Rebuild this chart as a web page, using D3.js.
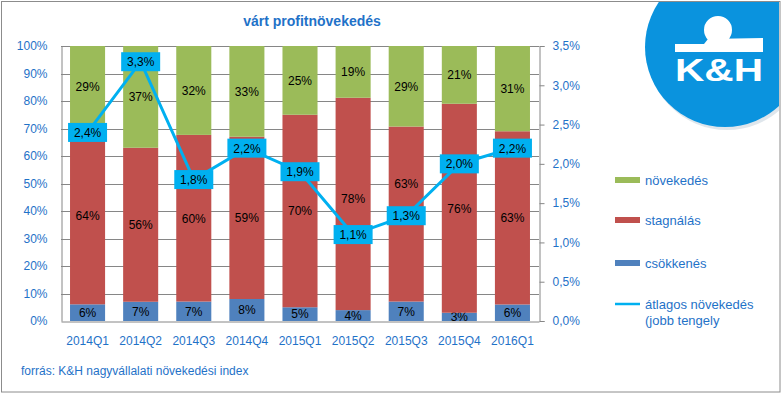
<!DOCTYPE html>
<html>
<head>
<meta charset="utf-8">
<script src="https://cdn.jsdelivr.net/npm/d3@7"></script>
<style>
	body { margin: 0; background: #fff; }
	svg { display: block; font-family: "Liberation Sans", Arial, sans-serif; }
	.axis path, .axis line { stroke: #868686; }
	.axis text { fill: #1f72c8; font-size: 12px; }
</style>
</head>
<body>
<div id="chart"></div>
<script>
// data
let categories = ["2014Q1", "2014Q2", "2014Q3", "2014Q4", "2015Q1", "2015Q2", "2015Q3", "2015Q4", "2016Q1"];
let csokkenes = [6, 7, 7, 8, 5, 4, 7, 3, 6];
let stagnalas = [64, 56, 60, 59, 70, 78, 63, 76, 63];
let novekedes = [29, 37, 32, 33, 25, 19, 29, 21, 31];
let atlagos = [2.4, 3.3, 1.8, 2.2, 1.9, 1.1, 1.34, 2.0, 2.2];
let leftTicks = [0, 0.1, 0.2, 0.3, 0.4, 0.5, 0.6, 0.7, 0.8, 0.9, 1];
let rightTicks = [0, 0.5, 1, 1.5, 2, 2.5, 3, 3.5];

let W = 782, H = 394;
let blue = "#1f72c8";
let colors = {csokkenes: "#4f81bd", stagnalas: "#c0504d", novekedes: "#9bbb59"};
let lineColor = "#00b0f0";

// plot area
let margin = {top: 46, left: 61, right: 539, bottom: 321};

// a couple of bar labels were moved by hand in the original (px)
let labelNudge = {"2015Q2-stagnalas": -5, "2015Q3-stagnalas": -30};

let svg = d3.select("#chart").append("svg")
	.attr("width", W)
	.attr("height", H);

// frame
svg.append("rect")
	.attr("x", 1.5).attr("y", 1.5)
	.attr("width", W - 3.5).attr("height", H - 3.5)
	.attr("fill", "#fff")
	.attr("stroke", "#8c8c8c");

// K&H logo
svg.append("clipPath").attr("id", "logoclip")
	.append("rect").attr("x", 2).attr("y", 2).attr("width", 777).attr("height", 390);
let lg = svg.append("g").attr("clip-path", "url(#logoclip)");
lg.append("circle").attr("cx", 727).attr("cy", 50).attr("r", 80).attr("fill", "#c9d6e0").attr("opacity", 0.6);
lg.append("circle").attr("cx", 725).attr("cy", 47).attr("r", 80).attr("fill", "#0a93de");
// bar with the ball on it, one shape
lg.append("path")
	.attr("d", "M675,44 L704,44 L708,39 L763,38 L763,52 L675,52 Z " +
		"M704,30 A14,14 0 1,1 732,30 A14,14 0 1,1 704,30 Z")
	.attr("fill", "#ffffff");
lg.append("text")
	.attr("x", 675).attr("y", 81)
	.attr("fill", "#fff")
	.attr("textLength", 88)
	.attr("lengthAdjust", "spacingAndGlyphs")
	.style("font-size", "32px")
	.style("font-weight", "bold")
	.text("K&H");

// title
svg.append("text")
	.attr("x", 312).attr("y", 26)
	.attr("text-anchor", "middle")
	.attr("fill", blue)
	.style("font-size", "14px")
	.style("font-weight", "bold")
	.text("várt profitnövekedés");

// scales
let x = d3.scaleBand()
	.domain(categories)
	.range([margin.left, margin.right])
	.paddingInner(0.34)
	.paddingOuter(0.17);

let yLeft = d3.scaleLinear()
	.domain([0, 1])
	.range([margin.bottom, margin.top]);

let yRight = d3.scaleLinear()
	.domain([0, 3.5])
	.range([margin.bottom, margin.top]);

// gridlines
svg.append("g")
	.selectAll("line")
	.data(leftTicks.slice(1))
	.enter()
	.append("line")
	.attr("x1", margin.left).attr("x2", margin.right)
	.attr("y1", d => Math.round(yLeft(d)) + 0.5)
	.attr("y2", d => Math.round(yLeft(d)) + 0.5)
	.attr("stroke", "#868686");

// stacked bars
let rows = categories.map((c, i) => ({cat: c, csokkenes: csokkenes[i], stagnalas: stagnalas[i], novekedes: novekedes[i]}));
let keys = ["csokkenes", "stagnalas", "novekedes"];
let series = d3.stack().keys(keys).offset(d3.stackOffsetExpand)(rows);

let layers = svg.selectAll(".layer")
	.data(series)
	.enter()
	.append("g")
	.attr("class", "layer")
	.attr("fill", d => colors[d.key]);

layers.selectAll("rect")
	.data(d => d)
	.enter()
	.append("rect")
	.attr("x", d => x(d.data.cat))
	.attr("y", d => yLeft(d[1]))
	.attr("width", x.bandwidth())
	.attr("height", d => yLeft(d[0]) - yLeft(d[1]));

layers.selectAll("text")
	.data(d => d.map(p => ({p: p, key: d.key})))
	.enter()
	.append("text")
	.attr("x", d => x(d.p.data.cat) + x.bandwidth() / 2)
	.attr("y", d => (yLeft(d.p[0]) + yLeft(d.p[1])) / 2 + (labelNudge[d.p.data.cat + "-" + d.key] || 0))
	.attr("dy", "0.36em")
	.attr("text-anchor", "middle")
	.attr("fill", "#000")
	.style("font-size", "12px")
	.text(d => d.p.data[d.key] + "%");

// axes
let fmtRight = d => d3.format(".1f")(d).replace(".", ",") + "%";

svg.append("g")
	.attr("class", "axis y-axis")
	.attr("transform", "translate(" + (margin.left + 0.5) + ",0)")
	.call(d3.axisLeft(yLeft).tickValues(leftTicks).tickSize(0).tickPadding(14).tickFormat(d => Math.round(d * 100) + "%"));

svg.append("g")
	.attr("class", "axis y-axis-right")
	.attr("transform", "translate(" + (margin.right + 0.5) + ",0)")
	.call(d3.axisRight(yRight).tickValues(rightTicks).tickSizeOuter(0).tickSize(5).tickPadding(8).tickFormat(fmtRight));

svg.append("g")
	.attr("class", "axis x-axis")
	.attr("transform", "translate(0," + (margin.bottom + 0.5) + ")")
	.call(d3.axisBottom(x).tickSize(0).tickSizeOuter(0).tickPadding(15));

// average growth line (right axis)
let line = d3.line()
	.x((d, i) => x(categories[i]) + x.bandwidth() / 2)
	.y(d => yRight(d));

svg.append("path")
	.datum(atlagos)
	.attr("d", line)
	.attr("fill", "none")
	.attr("stroke", lineColor)
	.attr("stroke-width", 3);

let boxes = svg.selectAll(".pt-label")
	.data(atlagos)
	.enter()
	.append("g")
	.attr("class", "pt-label")
	.attr("transform", (d, i) => "translate(" + (x(categories[i]) + x.bandwidth() / 2) + "," + yRight(d) + ")");

boxes.append("rect")
	.attr("x", -19.5).attr("y", -9.5)
	.attr("width", 39).attr("height", 19)
	.attr("fill", lineColor);

boxes.append("text")
	.attr("text-anchor", "middle")
	.attr("dy", "0.38em")
	.attr("fill", "#000")
	.style("font-size", "12px")
	.text(d => fmtRight(d));

// legend
let legendItems = [
	{label: ["növekedés"], color: colors.novekedes, y: 180, type: "rect"},
	{label: ["stagnálás"], color: colors.stagnalas, y: 220, type: "rect"},
	{label: ["csökkenés"], color: colors.csokkenes, y: 263, type: "rect"},
	{label: ["átlagos növekedés", "(jobb tengely"], color: lineColor, y: 304, type: "line"}
];

let legend = svg.selectAll(".legend")
	.data(legendItems)
	.enter()
	.append("g")
	.attr("class", "legend")
	.attr("transform", d => "translate(615," + d.y + ")");

legend.filter(d => d.type == "rect")
	.append("rect")
	.attr("x", 0).attr("y", -3)
	.attr("width", 25).attr("height", 6)
	.attr("fill", d => d.color);

legend.filter(d => d.type == "line")
	.append("line")
	.attr("x1", 0).attr("x2", 25)
	.attr("y1", 0).attr("y2", 0)
	.attr("stroke", d => d.color)
	.attr("stroke-width", 2.5);

legend.append("text")
	.attr("x", 30)
	.attr("fill", blue)
	.style("font-size", "13px")
	.selectAll("tspan")
	.data(d => d.label)
	.enter()
	.append("tspan")
	.attr("x", 30)
	.attr("y", (d, i) => i * 16)
	.attr("dy", "0.35em")
	.text(d => d);

// source
svg.append("text")
	.attr("x", 21).attr("y", 375)
	.attr("fill", blue)
	.style("font-size", "12px")
	.text("forrás: K&H nagyvállalati növekedési index");
</script>
</body>
</html>
